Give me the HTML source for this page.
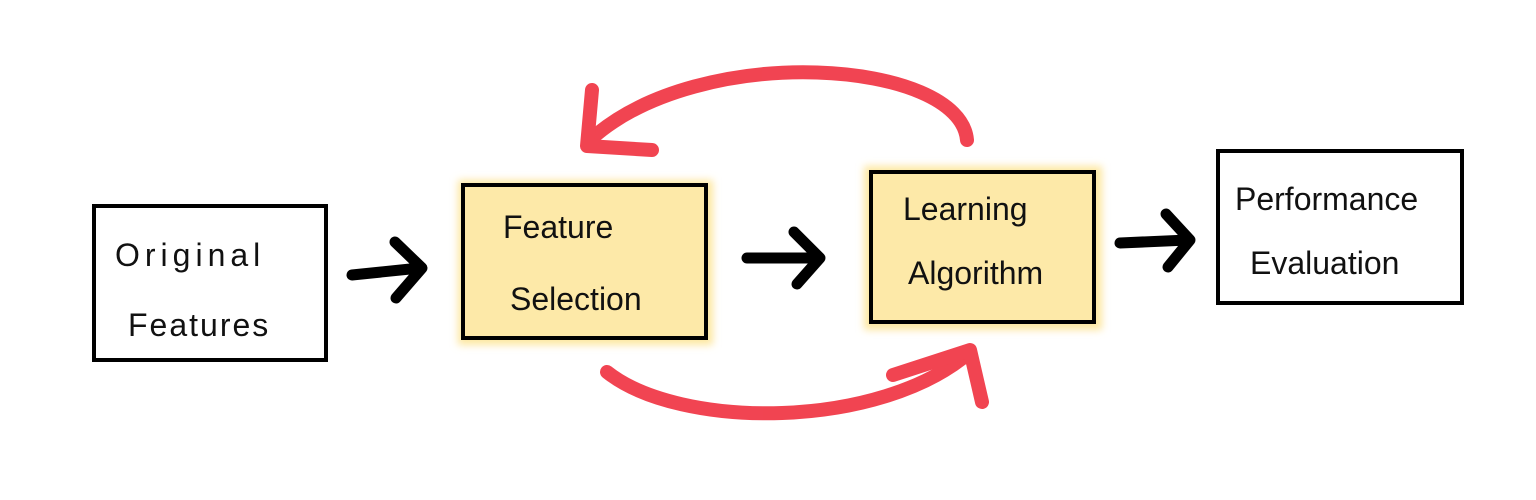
<!DOCTYPE html>
<html><head><style>
body{margin:0;background:#fff;}
svg{display:block}
text{font-family:"Liberation Sans",sans-serif;font-size:32px;fill:#111;}
</style></head><body>
<svg width="1536" height="500" viewBox="0 0 1536 500">
<defs>
<filter id="blur"><feGaussianBlur stdDeviation="4"/></filter>
</defs>
<rect x="94" y="206" width="232" height="154" fill="#fff" stroke="#000" stroke-width="4"/>
<rect x="458" y="180" width="255" height="165" fill="#fde7a0" filter="url(#blur)"/>
<rect x="463" y="185" width="243" height="153" fill="#fde9a8" stroke="#000" stroke-width="4"/>
<rect x="864" y="166" width="238" height="164" fill="#fde7a0" filter="url(#blur)"/>
<rect x="871" y="172" width="223" height="150" fill="#fde9a8" stroke="#000" stroke-width="4"/>
<rect x="1218" y="151" width="244" height="152" fill="#fff" stroke="#000" stroke-width="4"/>
<text x="115" y="266" letter-spacing="5">Original</text>
<text x="128" y="336" letter-spacing="2">Features</text>
<text x="503" y="238">Feature</text>
<text x="510" y="310">Selection</text>
<text x="903" y="220" font-size="30">Learning</text>
<text x="908" y="284" font-size="30">Algorithm</text>
<text x="1235" y="210" font-size="30">Performance</text>
<text x="1250" y="274" font-size="30">Evaluation</text>
<g stroke="#000" stroke-width="11" stroke-linecap="round" stroke-linejoin="round" fill="none">
<path d="M352 275 L420 268"/><path d="M395 242 L422 268 L396 298"/>
<path d="M747 258 L818 258"/><path d="M794 232 L820 258 L797 284"/>
<path d="M1120 243 L1188 240"/><path d="M1166 214 L1190 240 L1168 267"/>
</g>
<g stroke="#f0303f" stroke-width="14" stroke-linecap="round" stroke-linejoin="round" fill="none" opacity="0.9">
<path d="M967 140 C960 60 700 40 590 140"/>
<path d="M592 90 L587 146 L652 150"/>
<path d="M607 372 C680 430 880 430 970 352"/>
<path d="M893 375 L970 350 L982 402"/>
</g>
</svg>
</body></html>
